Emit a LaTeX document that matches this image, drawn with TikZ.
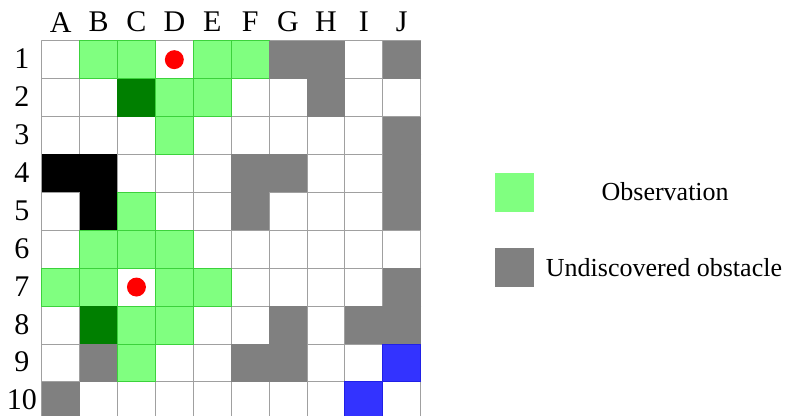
\documentclass[tikz,border=0pt]{standalone}
\usepackage{fontspec}
\setmainfont{Liberation Serif}
\usetikzlibrary{positioning}

\definecolor{obsgreen}{HTML}{80FF80}
\definecolor{obsedge}{HTML}{3CD23C}
\definecolor{darkcell}{HTML}{007F00}
\definecolor{obstgray}{HTML}{808080}
\definecolor{goalblue}{HTML}{3333FF}
\definecolor{goaledge}{HTML}{2020E6}
\definecolor{gridgray}{HTML}{A0A0A0}

\begin{document}
\begin{tikzpicture}[x=37.9pt, y=-37.9pt, line join=round, line cap=round]
\tikzset{
  gridline/.style={gridgray, line width=0.8pt},
  observed/.style={fill=obsgreen, draw=obsedge, line width=0.8pt},
  seen/.style={fill=darkcell},
  known/.style={fill=black},
  hidden/.style={fill=obstgray},
  goal/.style={fill=goalblue, draw=goaledge, line width=0.8pt},
  agent/.style={fill=red},
  axislabel/.style={font=\fontsize{30}{36}\selectfont, inner sep=0pt},
  legendtext/.style={font=\fontsize{26}{30}\selectfont}
}
\def\gridsize{10}
\def\agentradius{0.25}

% Page frame, the bottom row runs past the edge
\useasboundingbox (-1.100,-1.074) rectangle (19.665,9.876);
\clip (-1.100,-1.074) rectangle (19.665,9.876);

% Empty grid
\foreach \k in {0,...,\gridsize} {
  \draw[gridline] (\k,0) -- (\k,\gridsize);
  \draw[gridline] (0,\k) -- (\gridsize,\k);
}

% Observed cells
\foreach \c/\r in {2/1,3/1,5/1,6/1,4/2,5/2,4/3,3/5,2/6,3/6,4/6,
                   1/7,2/7,4/7,5/7,3/8,4/8,3/9}
  \draw[observed] (\c-1,\r-1) rectangle ++(1,1);

% Observed obstacles
\foreach \c/\r in {3/2,2/8}
  \fill[seen] (\c-1,\r-1) rectangle ++(1,1);

% Known obstacles
\foreach \c/\r in {1/4,2/4,2/5}
  \fill[known] (\c-1,\r-1) rectangle ++(1,1);

% Undiscovered obstacles
\foreach \c/\r in {7/1,8/1,10/1,8/2,10/3,6/4,7/4,10/4,6/5,10/5,
                   10/7,7/8,9/8,10/8,2/9,6/9,7/9,1/10}
  \fill[hidden] (\c-1,\r-1) rectangle ++(1,1);

% Goal cells
\foreach \c/\r in {10/9,9/10}
  \draw[goal] (\c-1,\r-1) rectangle ++(1,1);

% Agents
\fill[agent] (3.5,0.5) circle (\agentradius);
\fill[agent] (2.5,6.5) circle (\agentradius);

% Column and row labels
\foreach \name [count=\c] in {A,B,C,D,E,F,G,H,I,J}
  \node[axislabel] (col-\name) at (\c-0.5,-0.49) {\name};
\foreach \r in {1,...,10}
  \node[axislabel] (row-\r) at (-0.52,\r-0.52) {\r};

% Legend
\fill[obsgreen] (11.96,3.49) rectangle (12.99,4.52);
\fill[obstgray] (11.96,5.47) rectangle (12.99,6.50);
\node[legendtext] (obs-text) at (16.45,3.99) {Observation};
\node[legendtext, anchor=west, inner sep=0pt] (undisc-text) at (13.30,5.99) {Undiscovered obstacle};
\end{tikzpicture}
\end{document}
